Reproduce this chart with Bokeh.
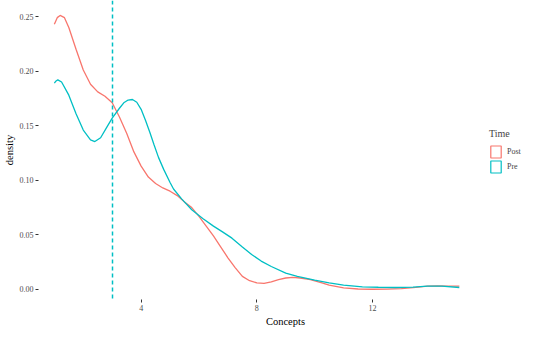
import numpy as np
from bokeh.plotting import figure
from bokeh.models import Legend, LegendItem, PrintfTickFormatter
from bokeh.embed import file_html
from bokeh.resources import INLINE

# ---- data ----
post_x = [1.0, 1.1, 1.2, 1.35, 1.5, 1.75, 2.0, 2.25, 2.5, 2.75, 3.0, 3.25, 3.5, 3.75,
          4.0, 4.25, 4.5, 4.75, 5.0, 5.25, 5.5, 5.75, 6.0, 6.25, 6.5, 6.75, 7.0, 7.25,
          7.5, 7.75, 8.0, 8.25, 8.5, 8.75, 9.0, 9.25, 9.5, 9.85, 10.25, 10.5, 11.0,
          11.5, 12.0, 12.5, 13.0, 13.5, 13.9, 14.25, 14.6, 15.0]
post_y = [0.243, 0.249, 0.251, 0.249, 0.240, 0.220, 0.201, 0.188, 0.181, 0.177, 0.171,
          0.158, 0.143, 0.126, 0.113, 0.103, 0.097, 0.093, 0.090, 0.086, 0.080, 0.075,
          0.067, 0.058, 0.049, 0.039, 0.029, 0.020, 0.012, 0.008, 0.006, 0.0055, 0.007,
          0.009, 0.0105, 0.011, 0.0105, 0.009, 0.006, 0.004, 0.0015, 0.0004, 0.0002,
          0.0003, 0.0008, 0.002, 0.003, 0.0032, 0.003, 0.003]

pre_x = [1.0, 1.06, 1.12, 1.25, 1.5, 1.75, 2.0, 2.25, 2.4, 2.6, 2.8, 3.0, 3.25, 3.4,
         3.55, 3.7, 3.85, 4.0, 4.15, 4.3, 4.44, 4.6, 4.78, 5.0, 5.12, 5.4, 5.75, 6.13,
         6.5, 6.8, 7.14, 7.5, 7.82, 8.15, 8.5, 9.0, 9.4, 10.0, 10.5, 11.0, 11.65, 12.2,
         12.8, 13.4, 13.9, 14.4, 15.0]
pre_y = [0.189, 0.191, 0.192, 0.190, 0.178, 0.161, 0.146, 0.137, 0.1355, 0.139, 0.148,
         0.157, 0.166, 0.171, 0.1735, 0.174, 0.1715, 0.165, 0.155, 0.144, 0.133, 0.121,
         0.110, 0.098, 0.092, 0.083, 0.073, 0.065, 0.058, 0.053, 0.047, 0.039, 0.032,
         0.026, 0.021, 0.015, 0.012, 0.0085, 0.006, 0.004, 0.0024, 0.002, 0.0018, 0.0022,
         0.003, 0.003, 0.0018]

# dashed reference line (Pre group)
vline_x = [3.0]
x_ticks = [4, 8, 12]
y_ticks = [0.0, 0.05, 0.10, 0.15, 0.20, 0.25]
groups = ["Post", "Pre"]
colors = ["#F8766D", "#00BFC4"]

FONT = "Liberation Serif"
NAN = np.array([np.nan])

p = figure(width=534, height=329, output_backend="svg", toolbar_location=None,
           x_range=(0.452, 17.53), y_range=(-0.0092, 0.2647),
           min_border_top=0, min_border_right=2, min_border_bottom=0, min_border_left=0)
p.outline_line_color = None
p.grid.visible = False

p.xaxis.ticker = x_ticks
p.yaxis.ticker = y_ticks
p.yaxis.formatter = PrintfTickFormatter(format="%.2f")
for ax in (p.xaxis, p.yaxis):
    ax.axis_line_color = None
    ax.minor_tick_line_color = None
    ax.major_tick_in = 0
    ax.major_tick_out = 3
    ax.major_tick_line_color = "#333333"
    ax.major_label_text_font = FONT
    ax.major_label_text_font_size = "8px"
    ax.major_label_text_color = "#4D4D4D"
    ax.major_label_standoff = 2
    ax.axis_label_text_font = FONT
    ax.axis_label_text_font_size = "10.5px"
    ax.axis_label_text_font_style = "normal"
    ax.axis_label_text_color = "black"
    ax.axis_label_standoff = 2
p.xaxis.axis_label = "Concepts"
p.yaxis.axis_label = "density"

series = [(post_x, post_y), (pre_x, pre_y)]
for (xs, ys), c in zip(series, colors):
    p.line(xs, ys, line_color=c, line_width=1.3)

p.vspan(x=vline_x, line_color=colors[1], line_dash="4 3", line_width=1.5)

items = []
for g, c in zip(groups, colors):
    box = p.quad(left=NAN, right=NAN, top=NAN, bottom=NAN, fill_color=None,
                 line_color=c, line_width=1.2)
    items.append(LegendItem(label=g, renderers=[box]))

legend = Legend(items=items, title="Time", location=(451, 125))
legend.title_text_font = FONT
legend.title_text_font_size = "10px"
legend.title_text_font_style = "normal"
legend.label_text_font = FONT
legend.label_text_font_size = "8px"
legend.glyph_width = 13
legend.glyph_height = 15
legend.spacing = 0
legend.padding = 0
legend.margin = 0
legend.label_standoff = 5
legend.border_line_color = None
legend.background_fill_alpha = 0
p.add_layout(legend)

open("out.html", "w").write(file_html(p, INLINE))
